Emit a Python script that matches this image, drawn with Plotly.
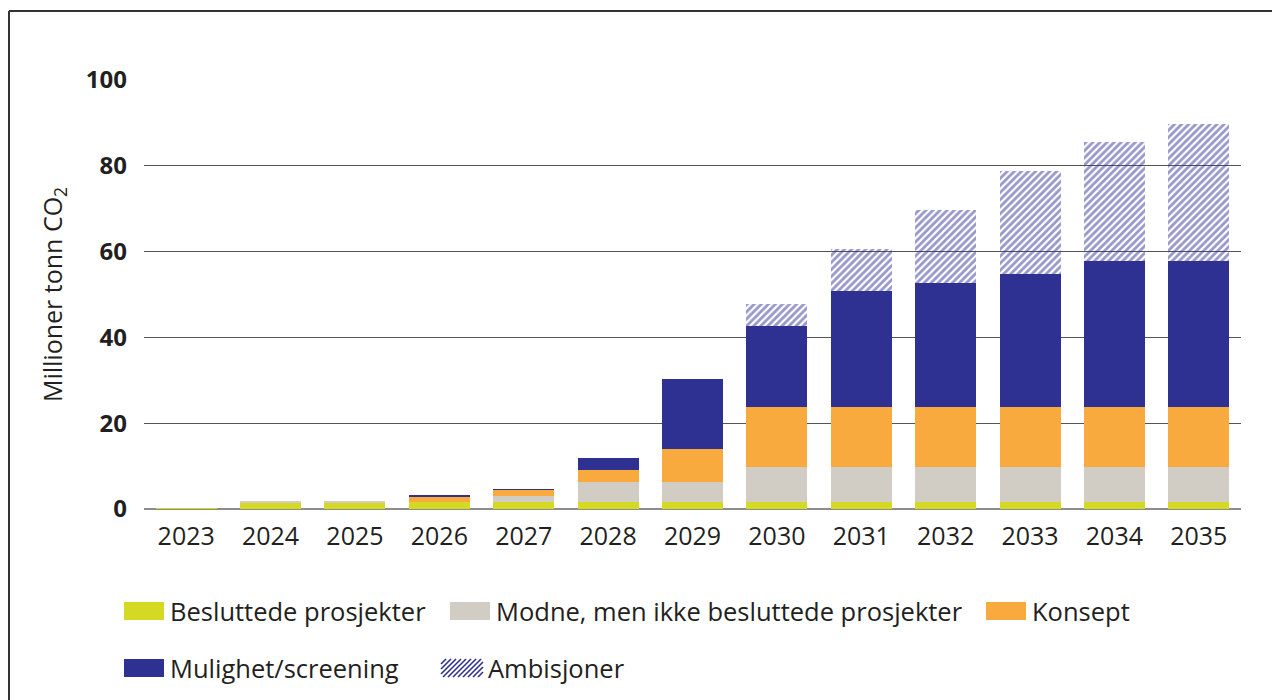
import plotly.graph_objects as go

# Captured CO2 volumes by project maturity (million tonnes)
years = ["2023", "2024", "2025", "2026", "2027", "2028", "2029",
         "2030", "2031", "2032", "2033", "2034", "2035"]
besluttede = [0.2, 1.6, 1.6, 1.7, 1.7, 1.7, 1.6, 1.7, 1.7, 1.7, 1.7, 1.7, 1.7]
modne = [0.0, 0.05, 0.05, 0.0, 1.3, 4.7, 4.8, 8.2, 8.2, 8.2, 8.2, 8.2, 8.2]
konsept = [0.0, 0.0, 0.0, 1.2, 1.5, 2.8, 7.7, 13.8, 13.8, 13.8, 13.8, 13.8, 13.8]
mulighet = [0.0, 0.0, 0.0, 0.2, 0.1, 2.8, 16.1, 18.9, 27.1, 28.9, 31.0, 34.1, 34.1]
ambisjoner = [0.0, 0.0, 0.0, 0.0, 0.0, 0.0, 0.0, 5.1, 9.8, 17.1, 24.1, 27.8, 31.9]

labels = ["Besluttede prosjekter", "Modne, men ikke besluttede prosjekter",
          "Konsept", "Mulighet/screening", "Ambisjoner"]

C_BES = "#d4da24"
C_MOD = "#d1cdc5"
C_KON = "#f8aa3e"
C_MUL = "#2e3192"
TXT = "#231f20"
FONT = "Open Sans"

W, H = 1272, 700
L, R, T, B = 144, 31, 80, 191
PW, PH = W - L - R, H - T - B
BOT = H - B


def px(x):
    return (x - L) / PW


def py(y):
    return (BOT - y) / PH


fig = go.Figure()
solid = [(besluttede, C_BES), (modne, C_MOD), (konsept, C_KON), (mulighet, C_MUL)]
for (vals, col), name in zip(solid, labels[:4]):
    fig.add_trace(go.Bar(x=years, y=vals, name=name,
                         marker=dict(color=col, line=dict(width=0))))
fig.add_trace(go.Bar(
    x=years, y=ambisjoner, name=labels[4],
    marker=dict(color="rgba(0,0,0,0)", line=dict(width=0),
                pattern=dict(shape="/", fgcolor="#30309a", bgcolor="rgba(0,0,0,0)",
                             size=5, solidity=0.55, fillmode="overlay")),
))

shapes = []
# outer frame (top and left edges)
shapes.append(dict(type="line", xref="paper", yref="paper",
                   x0=px(9), x1=px(1290), y0=py(11), y1=py(11),
                   line=dict(color="#333333", width=2)))
shapes.append(dict(type="line", xref="paper", yref="paper",
                   x0=px(9), x1=px(9), y0=py(11), y1=py(720),
                   line=dict(color="#333333", width=2)))

annotations = []
LEG_SIZE = 25.5
# legend: solid swatches
legend_items = [
    (labels[0], C_BES, 124, 611),
    (labels[1], C_MOD, 450, 611),
    (labels[2], C_KON, 986, 611),
    (labels[3], C_MUL, 124, 668),
]
for text, col, x0, yc in legend_items:
    shapes.append(dict(type="rect", xref="paper", yref="paper",
                       x0=px(x0), x1=px(x0 + 40), y0=py(yc + 9), y1=py(yc - 9),
                       fillcolor=col, line=dict(width=0)))
    annotations.append(dict(xref="paper", yref="paper", x=px(x0 + 44), y=py(yc),
                            text=text, showarrow=False, xanchor="left", yanchor="middle",
                            font=dict(family=FONT, size=LEG_SIZE, color=TXT)))

# legend: hatched swatch
hx0, hx1, htop, hbot = 441, 483, 659, 677
hh = hbot - htop
x = hx0 - hh
while x < hx1:
    t0 = max(0.0, (hx0 - x) / hh)
    t1 = min(1.0, (hx1 - x) / hh)
    if t1 > t0:
        shapes.append(dict(type="line", xref="paper", yref="paper",
                           x0=px(x + t0 * hh), y0=py(hbot - t0 * hh),
                           x1=px(x + t1 * hh), y1=py(hbot - t1 * hh),
                           line=dict(color=C_MUL, width=1.6)))
    x += 5
annotations.append(dict(xref="paper", yref="paper", x=px(486), y=py(668),
                        text=labels[4], showarrow=False, xanchor="left", yanchor="middle",
                        font=dict(family=FONT, size=LEG_SIZE, color=TXT)))

fig.update_layout(
    width=W, height=H,
    margin=dict(l=L, r=R, t=T, b=B),
    paper_bgcolor="white", plot_bgcolor="white",
    barmode="stack", bargap=0.277,
    showlegend=False,
    font=dict(family=FONT, color=TXT),
    shapes=shapes, annotations=annotations,
    xaxis=dict(
        type="category", range=[-0.5, 12.5],
        showgrid=False, showline=False, ticks="",
        tickfont=dict(family=FONT, size=25, color=TXT),
        ticklabelstandoff=10,
    ),
    yaxis=dict(
        range=[0, 100], tickvals=[0, 20, 40, 60, 80, 100],
        showgrid=True, gridcolor="#555555", gridwidth=1,
        zeroline=True, zerolinecolor="#8c8c8c", zerolinewidth=2,
        showline=False, ticks="",
        tickfont=dict(family=FONT, size=24, color=TXT, weight="bold"),
        ticklabelstandoff=16,
        title=dict(text="Millioner tonn CO<sub>2</sub>",
                   font=dict(family=FONT, size=25, color=TXT), standoff=16),
    ),
)

fig.write_html("out.html")
